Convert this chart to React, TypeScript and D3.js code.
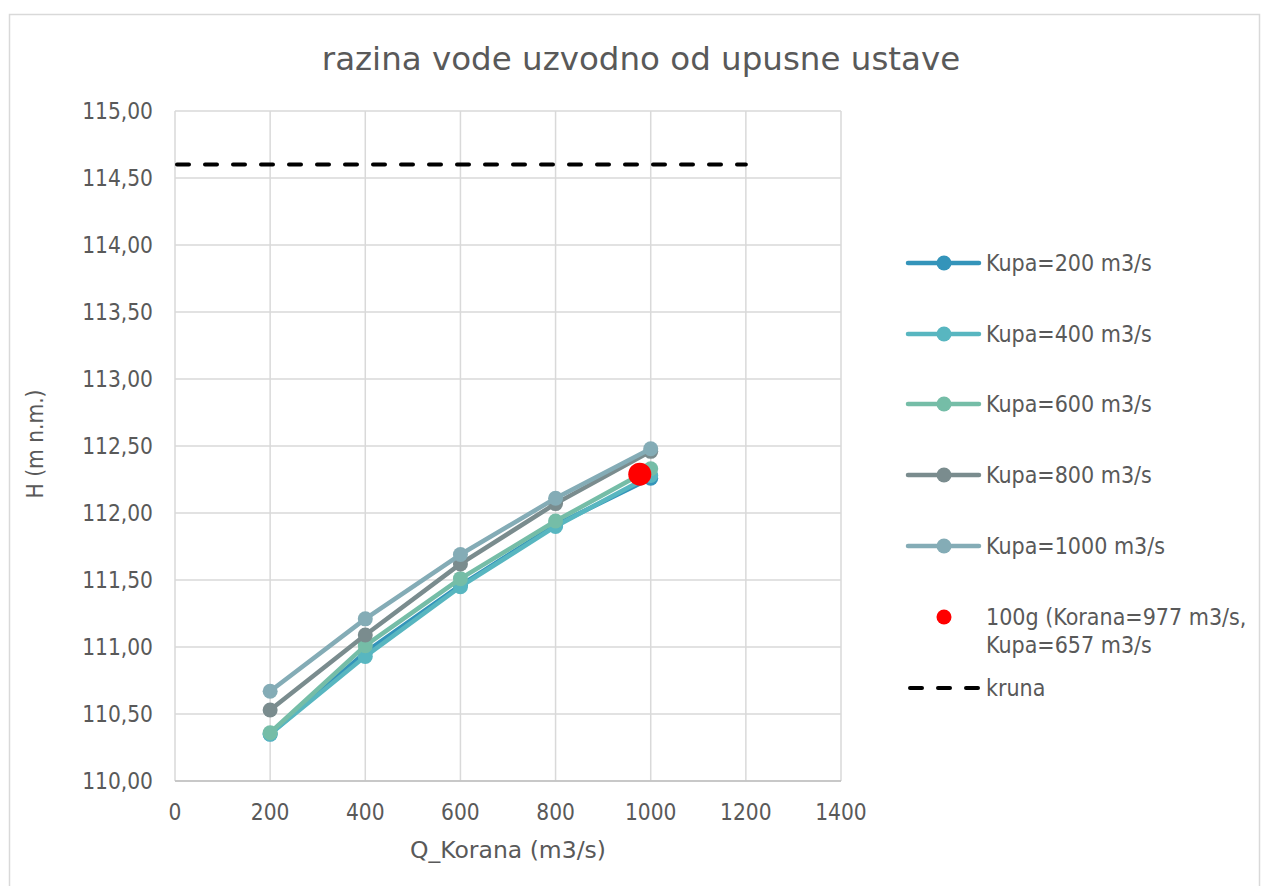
import React from "react";
import * as d3 from "d3";

const korana = [200, 400, 600, 800, 1000];
const seriesNames = ["Kupa=200 m3/s", "Kupa=400 m3/s", "Kupa=600 m3/s", "Kupa=800 m3/s", "Kupa=1000 m3/s"];
const kupa200 = [110.35, 110.96, 111.46, 111.91, 112.26];
const kupa400 = [110.35, 110.93, 111.45, 111.9, 112.28];
const kupa600 = [110.36, 111.01, 111.51, 111.94, 112.33];
const kupa800 = [110.53, 111.09, 111.62, 112.07, 112.46];
const kupa1000 = [110.67, 111.21, 111.69, 112.11, 112.48];
const seriesColors = ["#3494BA", "#58B6C0", "#75BDA7", "#7A8C8E", "#84ACB6"];
const pointQ = 977;
const pointH = 112.29;
const pointLabel = ["100g (Korana=977 m3/s,", "Kupa=657 m3/s"];
const krunaX = [0, 1200];
const krunaH = 114.6;
const xTicks = [0, 200, 400, 600, 800, 1000, 1200, 1400];
const yTicks = [110, 110.5, 111, 111.5, 112, 112.5, 113, 113.5, 114, 114.5, 115];

const FONT = "'DejaVu Sans Condensed', 'DejaVu Sans', sans-serif";
const FONT_WIDE = "'DejaVu Sans', sans-serif";
const TXT = "#595959";

export default function App() {
  const series = [kupa200, kupa400, kupa600, kupa800, kupa1000];
  const x = d3.scaleLinear().domain([0, 1400]).range([175, 841]);
  const y = d3.scaleLinear().domain([110, 115]).range([781, 111]);
  const line = d3
    .line<number>()
    .x((_, i) => x(korana[i]))
    .y((d) => y(d));
  const fmt = (v: number) => v.toFixed(2).replace(".", ",");
  const legendY = [263, 334, 404, 475, 546];

  return (
    <svg
      width={1261}
      height={886}
      style={{ position: "absolute", left: 0, top: 0, fontFamily: FONT }}
    >
      <rect x={0} y={0} width={1261} height={886} fill="#fff" />
      <rect x={9.5} y={14.5} width={1250} height={900} fill="#fff" stroke="#d9d9d9" strokeWidth={1.5} />
      <text x={641} y={70} textAnchor="middle" fontSize={32.5} fill={TXT} fontFamily={FONT_WIDE}>
        razina vode uzvodno od upusne ustave
      </text>
      {/* grid */}
      {xTicks.map((t) => (
        <line key={"gx" + t} x1={x(t)} x2={x(t)} y1={y(115)} y2={y(110)} stroke="#d9d9d9" strokeWidth={1.5} />
      ))}
      {yTicks.map((t) => (
        <line key={"gy" + t} x1={x(0)} x2={x(1400)} y1={y(t)} y2={y(t)} stroke="#d9d9d9" strokeWidth={1.5} />
      ))}
      <line x1={x(0)} x2={x(1400)} y1={y(110)} y2={y(110)} stroke="#bfbfbf" strokeWidth={1.5} />
      {/* tick labels */}
      {yTicks.map((t) => (
        <text key={"ty" + t} x={153} y={y(t)} dy="0.36em" textAnchor="end" fontSize={22.5} fill={TXT}>
          {fmt(t)}
        </text>
      ))}
      {xTicks.map((t) => (
        <text key={"tx" + t} x={x(t)} y={812} dy="0.36em" textAnchor="middle" fontSize={22.5} fill={TXT}>
          {t}
        </text>
      ))}
      <text x={508} y={850} dy="0.36em" textAnchor="middle" fontSize={23.5} fill={TXT} fontFamily={FONT_WIDE}>
        Q_Korana (m3/s)
      </text>
      <text
        transform={`translate(35,444) rotate(-90)`}
        dy="0.36em"
        textAnchor="middle"
        fontSize={22.5}
        fill={TXT}
      >
        H (m n.m.)
      </text>
      {/* kruna */}
      <line
        x1={x(krunaX[0]) + 2}
        x2={x(krunaX[1])}
        y1={y(krunaH)}
        y2={y(krunaH)}
        stroke="#000"
        strokeWidth={4}
        strokeDasharray="12 16"
        strokeLinecap="round"
      />
      {/* series */}
      {series.map((s, si) => (
        <g key={"s" + si}>
          <path d={line(s) || ""} fill="none" stroke={seriesColors[si]} strokeWidth={4.5} strokeLinejoin="round" />
          {s.map((v, i) => (
            <circle key={i} cx={x(korana[i])} cy={y(v)} r={7.5} fill={seriesColors[si]} />
          ))}
        </g>
      ))}
      <circle cx={x(pointQ)} cy={y(pointH)} r={11.5} fill="#ff0000" />
      {/* legend */}
      {seriesNames.map((n, i) => (
        <g key={"l" + i}>
          <line x1={908} x2={979} y1={legendY[i]} y2={legendY[i]} stroke={seriesColors[i]} strokeWidth={4.5} strokeLinecap="round" />
          <circle cx={944} cy={legendY[i]} r={7.5} fill={seriesColors[i]} />
          <text x={986} y={legendY[i]} dy="0.36em" fontSize={23} fill={TXT}>
            {n}
          </text>
        </g>
      ))}
      <circle cx={944} cy={617} r={7.5} fill="#ff0000" />
      <text x={986} y={617} dy="0.36em" fontSize={23} fill={TXT}>
        {pointLabel[0]}
      </text>
      <text x={986} y={645} dy="0.36em" fontSize={23} fill={TXT}>
        {pointLabel[1]}
      </text>
      <line x1={910} x2={979} y1={688} y2={688} stroke="#000" strokeWidth={4} strokeDasharray="12 16" strokeLinecap="round" />
      <text x={986} y={688} dy="0.36em" fontSize={23} fill={TXT}>
        kruna
      </text>
    </svg>
  );
}
